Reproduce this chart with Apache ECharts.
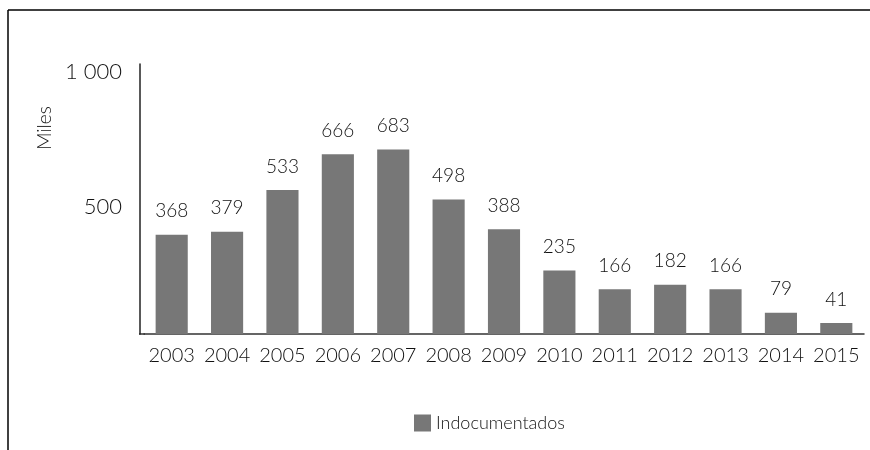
<!DOCTYPE html>
<html><head><meta charset="utf-8">
<script src="https://cdn.jsdelivr.net/npm/echarts@6/dist/echarts.min.js"></script>
<style>html,body{margin:0;padding:0;background:#fff}#c{width:870px;height:450px}</style>
</head><body><div id="c"></div>
<script>
var categories = ['2003','2004','2005','2006','2007','2008','2009','2010','2011','2012','2013','2014','2015'];
var indocumentados = [368,379,533,666,683,498,388,235,166,182,166,79,41];
var seriesName = 'Indocumentados';
var yAxisName = 'Miles';
var font = 'Lato, "Open Sans", sans-serif';
var fw = 300;
var chart = echarts.init(document.getElementById('c'), null, {renderer:'canvas'});
chart.setOption({
  animation: false,
  backgroundColor: '#fff',
  grid: {left: 144, right: 6, top: 64, bottom: 116, containLabel: false},
  legend: {
    data: [seriesName], left: 409, top: 409, itemWidth: 17, itemHeight: 17, itemGap: 9,
    icon: 'rect',
    textStyle: {fontFamily: font, fontWeight: fw, fontSize: 18, color: '#111'}
  },
  xAxis: {
    type: 'category', data: categories,
    axisLine: {lineStyle: {color: '#333', width: 1.5}},
    axisTick: {show: false},
    axisLabel: {interval: 0, hideOverlap: false, fontFamily: font, fontWeight: fw, fontSize: 20, color: '#111', margin: 12}
  },
  yAxis: {
    type: 'value', min: 0, max: 1000, interval: 500, offset: 4,
    splitLine: {show: false},
    axisTick: {show: false},
    axisLine: {show: true, lineStyle: {color: '#222', width: 1.5}},
    axisLabel: {fontFamily: font, fontWeight: fw, fontSize: 22, color: '#111', margin: 18,
      verticalAlign: 'top', lineHeight: 16,
      formatter: function(v){ if(v===0) return ''; return v>=1000 ? Math.floor(v/1000)+' '+String(v%1000).padStart(3,'0') : String(v); }}
  },
  graphic: [
    {type:'line', shape:{x1:8,y1:10,x2:870,y2:10}, style:{stroke:'#000', lineWidth:1.5}},
    {type:'line', shape:{x1:8,y1:10,x2:8,y2:450}, style:{stroke:'#000', lineWidth:1.5}},
    {type:'line', shape:{x1:139,y1:334,x2:145,y2:334}, style:{stroke:'#333', lineWidth:1.5}},
    {type:'text', x:45, y:128, rotation: Math.PI/2,
      style:{text: yAxisName, fontFamily: font, fontWeight: fw, fontSize: 19, fill:'#111', align:'center', verticalAlign:'middle'}}
  ],
  series: [{
    name: seriesName, type: 'bar', data: indocumentados,
    barWidth: '58%',
    itemStyle: {color: '#777777'},
    label: {show: true, position: 'top', distance: 14, fontFamily: font, fontWeight: fw, fontSize: 19, color: '#111'}
  }]
});
</script></body></html>
